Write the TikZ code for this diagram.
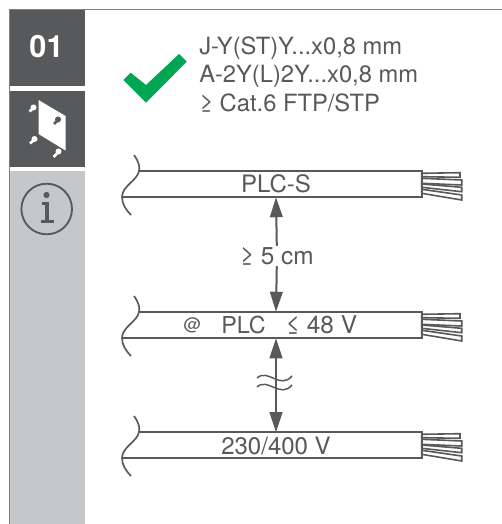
\documentclass[tikz,border=0pt]{standalone}
\usepackage{amsmath}
\usepackage{amssymb}
\usepackage{fontspec}
\setmainfont{TeX Gyre Heros}
\usetikzlibrary{arrows.meta}
\definecolor{inkgray}{HTML}{58595B}
\definecolor{panelgray}{HTML}{C6C7C9}
\definecolor{okgreen}{HTML}{00A651}
\tikzset{
  cableline/.style={draw=inkgray,line width=1.25pt},
  wire/.style={draw=inkgray,fill=white,line width=1.2pt},
  cablebody/.style={inner sep=0pt,minimum width=100*0.75pt,minimum height=26*0.75pt,text=inkgray,font=\fontsize{18}{18}\selectfont},
  lbl/.style={inner sep=0.75pt,text=inkgray,font=\fontsize{18.3}{18.3}\selectfont},
  gaparrow/.style={draw=inkgray,line width=1.5pt,-{Triangle[length=15pt,width=9.5pt]}},
  screwline/.style={line width=2pt},
}
\begin{document}
\begin{tikzpicture}[x=0.75pt,y=0.75pt,yscale=-1,xscale=1]
\useasboundingbox (0,0) rectangle (502,524);

%Shape: Rectangle
\fill[inkgray] (9.5,10) rectangle (85,86);
\fill[inkgray] (9.5,91) rectangle (85,167);
\fill[panelgray] (9.5,171) rectangle (85,524);
%Straight Lines
\draw[gray,line width=0.8pt] (502,9.5) -- (9.5,9.5) -- (9.5,524);

% Text Node
\node (stepno) at (46.5,47) [inner sep=0.75pt,text=white,font=\fontsize{23}{23}\selectfont\bfseries] {01};

%Shape: Polygon
\fill[white] (38.5,100) -- (65.5,116) -- (65.5,150.5) -- (38.5,134) -- cycle;
%Screws
\draw[white,screwline] (34,107.5) -- (29.5,111.5);
\fill[white] (33.5,107.5) circle (3);
\draw[inkgray,screwline] (58.5,119.5) -- (54,124);
\fill[inkgray] (58,119.5) circle (3);
\draw[white,screwline] (35,139) -- (30,143.5);
\fill[white] (34.5,139) circle (3);
\draw[white,screwline] (59,151.5) -- (53.5,157);
\fill[white] (58.5,151.5) circle (3);

%Shape: Circle
\draw[inkgray,line width=1.4pt] (46.7,209) circle (25.3);
\fill[inkgray] (46.5,195) circle (3.1);
\draw[inkgray,line width=2.8pt] (41.5,203.5) -- (47,203.5) -- (47,221);
\draw[inkgray,line width=2.8pt] (40.5,221.5) -- (54,221.5);

%Shape: Polygon
\fill[okgreen] (123.3,80) -- (146,102.7) -- (186.7,61.7) -- (179,54) -- (146,85) -- (130.7,72.7) -- cycle;

% Text Node
\node (typea) at (198,55) [anchor=base west,lbl,font=\fontsize{17.8}{17.8}\selectfont] {J-Y(ST)Y...x0,8 mm};
% Text Node
\node (typeb) at (198,83) [anchor=base west,lbl,font=\fontsize{17.8}{17.8}\selectfont] {A-2Y(L)2Y...x0,8 mm};
% Text Node
\node (typec) at (198,112) [anchor=base west,lbl,font=\fontsize{17.8}{17.8}\selectfont] {≥ Cat.6 FTP/STP};

% Cable nodes
\node (plcs) at (276,184) [cablebody] {PLC-S};
\node (plc) at (276,325) [cablebody] {};
\node (hv) at (276,445.5) [cablebody] {230/400 V};

%Cable outlines
\foreach \dy in {0,141,261}{
\begin{scope}[yshift=\dy*0.75pt]
\draw[cableline] (134,155) .. controls (139,162) and (140,167) .. (139,171) .. controls (137,181) and (122,186) .. (122,197) .. controls (122,204) and (126,210) .. (131,215);
\draw[wire] (421.7,173.3) -- (460,172.7) -- (460,177.3) -- (421.7,176.7) -- cycle;
\draw[wire] (421.7,178.3) -- (461.7,180) -- (461.7,185) -- (421.7,183.3) -- cycle;
\draw[wire] (421.7,184) -- (461.7,187.3) -- (461.7,191.7) -- (421.7,187.3) -- cycle;
\draw[wire] (421.7,189.3) -- (461.7,195) -- (461.7,200) -- (421.7,193.3) -- cycle;
\draw[cableline] (139,171) -- (421.7,171) -- (421.7,197) -- (122,197);
\end{scope}
}

% Text Node
\node (plcat) at (192.5,325) [lbl,font=\fontsize{13}{13}\selectfont] {@};
% Text Node
\node (plcname) at (243.5,325) [lbl,font=\fontsize{17.5}{17.5}\selectfont] {PLC};
% Text Node
\node (plcvolt) at (321.5,325) [lbl] {≤ 48 V};

% Text Node
\node (dist) at (276.8,256) [lbl] {≥ 5 cm};

%Straight Lines
\draw[gaparrow] (dist.north) -- (plcs.south);
\draw[gaparrow] (dist.south) -- (plc.north);
\draw[gaparrow,{Triangle[length=15pt,width=9.5pt]}-{Triangle[length=15pt,width=9.5pt]}] (plc.south) -- (hv.north);

%Break mark
\draw[inkgray,line width=1.1pt] (257,378) .. controls (268,368) and (280,390) .. (292,376);
\draw[inkgray,line width=1.1pt] (257,387) .. controls (268,377) and (280,399) .. (292,385);

\end{tikzpicture}
\end{document}
